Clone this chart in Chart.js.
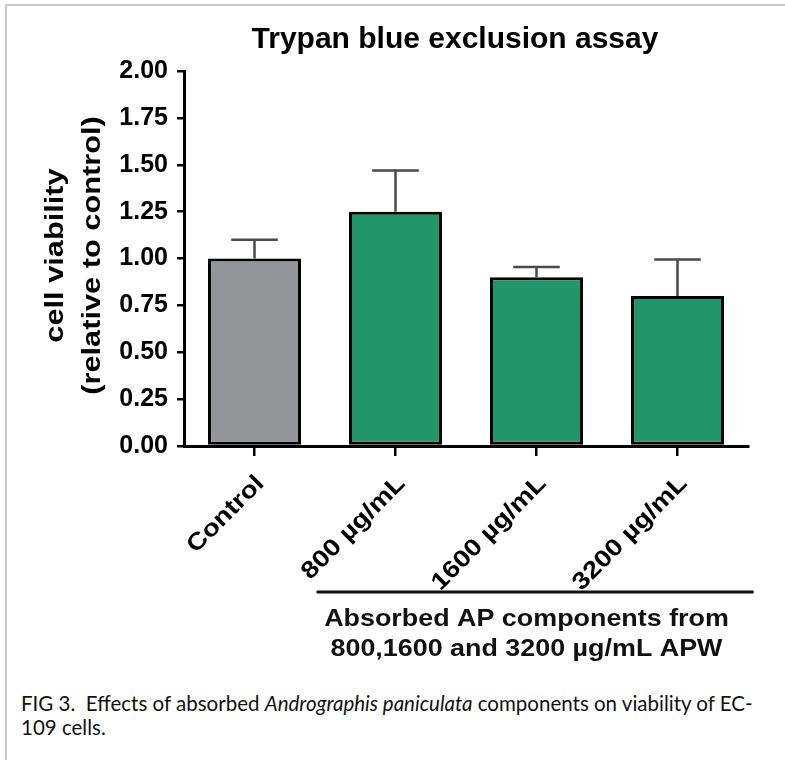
<!DOCTYPE html>
<html>
<head>
    <meta charset="utf-8">
    <title>Trypan blue exclusion assay</title>
    <script src="https://cdn.jsdelivr.net/npm/chart.js"></script>
    <style>
        html, body {
            margin: 0;
            padding: 0;
            background: #fff;
        }

        body {
            width: 785px;
            height: 760px;
            position: relative;
            overflow: hidden;
        }

        /* light frame round the figure */
        .frame {
            position: absolute;
            left: 5px;
            top: 4px;
            width: 800px;
            height: 780px;
            border-top: 2px solid #c9c9c9;
            border-left: 2px solid #c9c9c9;
        }

        #chartBox {
            position: absolute;
            left: 0;
            top: 0;
            width: 785px;
            height: 670px;
        }

        .caption {
            position: absolute;
            left: 21px;
            top: 691px;
            font-family: Lato, "Open Sans", sans-serif;
            font-size: 20.5px;
            line-height: 24px;
            color: #111;
            white-space: nowrap;
        }
    </style>
</head>
<body>
    <div class="frame"></div>
    <div id="chartBox"><canvas id="viabilityChart" width="785" height="670"></canvas></div>
    <div class="caption">FIG 3.&nbsp; Effects of absorbed <i>Andrographis paniculata</i> components on viability of EC-<br>109 cells.</div>

    <script>
        // data
        var chartTitle = 'Trypan blue exclusion assay';
        var yTitle = ['cell viability', '(relative to control)'];
        var categories = ['Control', '800 µg/mL', '1600 µg/mL', '3200 µg/mL'];
        var viability = [1.00, 1.25, 0.90, 0.80];
        var sem = [0.10, 0.22, 0.055, 0.195];
        var barColors = ['#939498', '#22966a', '#22966a', '#22966a'];
        var yTicks = [0, 0.25, 0.5, 0.75, 1, 1.25, 1.5, 1.75, 2];
        var groupLabel = ['Absorbed AP components from', '800,1600 and 3200 µg/mL APW'];
        var groupMembers = [1, 3]; // first and last category under the bracket

        var FONT = '"Liberation Sans", Arial, sans-serif';

        // draw text rotated and a bit stretched along its run (the GraphPad export is wide)
        function stretchedText(ctx, text, x, y, angle, stretch, align) {
            ctx.save();
            ctx.translate(x, y);
            ctx.rotate(angle);
            ctx.scale(stretch, 1);
            ctx.textAlign = align;
            ctx.textBaseline = 'middle';
            ctx.fillText(text, 0, 0);
            ctx.restore();
        }

        // title, y title and the slanted category names
        var figureText = {
            id: 'figureText',
            afterDraw: function (chart) {
                var ctx = chart.ctx;
                var area = chart.chartArea;
                var x = chart.scales.x;
                ctx.save();
                ctx.fillStyle = '#000';

                ctx.font = 'bold 30px ' + FONT;
                ctx.textAlign = 'center';
                ctx.textBaseline = 'alphabetic';
                ctx.fillText(chartTitle, (area.left + area.right) / 2 - 11, area.top - 23);

                ctx.font = 'bold 25px ' + FONT;
                var midY = (area.top + area.bottom) / 2 - 3;
                yTitle.forEach(function (t, i) {
                    stretchedText(ctx, t, area.left - 128 + i * 37, midY, -Math.PI / 2, 1.23, 'center');
                });

                ctx.font = 'bold 24px ' + FONT;
                categories.forEach(function (c, i) {
                    stretchedText(ctx, c, x.getPixelForValue(i) + 6, area.bottom + 34, -Math.PI / 4, 1.15, 'right');
                });
                ctx.restore();
            }
        };

        // upward-only error bars with a cap
        var errorBars = {
            id: 'errorBars',
            afterDatasetsDraw: function (chart) {
                var ctx = chart.ctx;
                var y = chart.scales.y;
                var bars = chart.getDatasetMeta(0).data;
                ctx.save();
                ctx.strokeStyle = '#4a4a4a';
                ctx.lineWidth = 2.5;
                bars.forEach(function (bar, i) {
                    var top = y.getPixelForValue(viability[i] + sem[i]);
                    var half = bar.width / 4;
                    ctx.beginPath();
                    ctx.moveTo(bar.x, bar.y);
                    ctx.lineTo(bar.x, top);
                    ctx.moveTo(bar.x - half, top);
                    ctx.lineTo(bar.x + half, top);
                    ctx.stroke();
                });
                ctx.restore();
            }
        };

        // bracket line + group caption under the treated bars
        var groupBracket = {
            id: 'groupBracket',
            afterDraw: function (chart) {
                var ctx = chart.ctx;
                var x = chart.scales.x;
                var step = x.getPixelForValue(1) - x.getPixelForValue(0);
                var first = x.getPixelForValue(groupMembers[0]);
                var last = x.getPixelForValue(groupMembers[1]);
                var lineY = chart.chartArea.bottom + 146;
                ctx.save();
                ctx.strokeStyle = '#111';
                ctx.lineWidth = 3;
                ctx.beginPath();
                ctx.moveTo(first - step * 0.56, lineY);
                ctx.lineTo(last + step * 0.54, lineY);
                ctx.stroke();
                ctx.fillStyle = '#111';
                ctx.font = 'bold 24px ' + FONT;
                var cx = (first + last) / 2 - 10;
                groupLabel.forEach(function (t, i) {
                    stretchedText(ctx, t, cx, lineY + 27 + i * 30, 0, 1.12, 'center');
                });
                ctx.restore();
            }
        };

        var ctx = document.getElementById('viabilityChart').getContext('2d');
        var chart = new Chart(ctx, {
            type: 'bar',
            data: {
                labels: categories,
                datasets: [{
                    data: viability,
                    backgroundColor: barColors,
                    borderColor: '#000',
                    borderWidth: 3,
                    borderSkipped: false,
                    barPercentage: 0.66,
                    categoryPercentage: 1
                }]
            },
            options: {
                responsive: false,
                animation: false,
                layout: {
                    padding: { left: 0, right: 37, top: 71, bottom: 0 }
                },
                plugins: {
                    legend: { display: false },
                    tooltip: { enabled: false },
                    title: { display: false }
                },
                scales: {
                    x: {
                        grid: {
                            offset: false,
                            drawOnChartArea: false,
                            drawTicks: true,
                            tickLength: 10,
                            color: '#000',
                            lineWidth: 2.5
                        },
                        border: { color: '#000', width: 3 },
                        ticks: { display: false },
                        afterFit: function (scale) {
                            scale.height = 224;
                        }
                    },
                    y: {
                        min: 0,
                        max: 2,
                        grid: {
                            drawOnChartArea: false,
                            drawTicks: true,
                            tickLength: 7,
                            color: '#000',
                            lineWidth: 2.5
                        },
                        border: { color: '#000', width: 3 },
                        ticks: {
                            color: '#000',
                            font: { family: FONT, size: 25, weight: 'bold' },
                            padding: 9,
                            callback: function (v) { return Number(v).toFixed(2); }
                        },
                        afterBuildTicks: function (scale) {
                            scale.ticks = yTicks.map(function (v) { return { value: v }; });
                        },
                        afterFit: function (scale) {
                            scale.width = 184;
                        }
                    }
                }
            },
            plugins: [errorBars, groupBracket, figureText]
        });
    </script>
</body>
</html>
